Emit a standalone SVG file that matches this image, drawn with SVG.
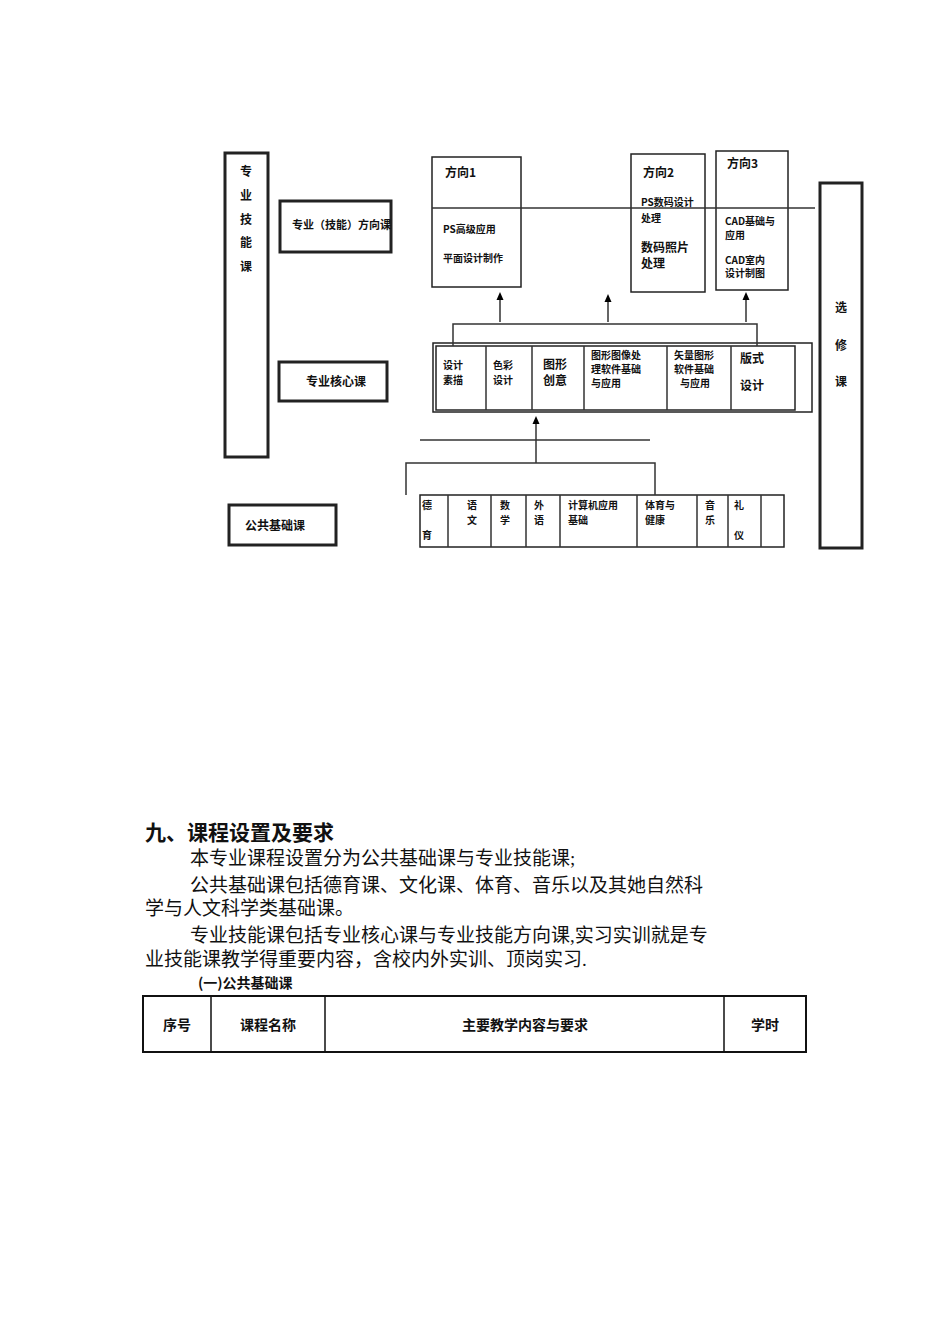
<svg xmlns="http://www.w3.org/2000/svg" width="950" height="1344" viewBox="0 0 950 1344">
<defs><path id="ah" d="M-3.5,8 L0,0 L3.5,8 Z" fill="#000"/></defs>
<style>
.b{fill:#fff;stroke:#222;stroke-width:1.5}
.bb{fill:#fff;stroke:#222;stroke-width:3}
.l{stroke:#333;stroke-width:1.5;fill:none}
text{font-family:"Noto Sans CJK SC","Liberation Sans",sans-serif;font-weight:bold;fill:#111}
.s{font-size:10px}.m{font-size:12px}
.t{font-family:"Liberation Serif","Noto Sans CJK SC",serif;font-weight:normal;font-size:19px}
</style>
<rect width="950" height="1344" fill="#fff"/>
<g id="zyjnk"><rect class="bb" x="225" y="153" width="43" height="304"/>
<text class="m" x="246" y="176" text-anchor="middle">专</text><text class="m" x="246" y="200" text-anchor="middle">业</text><text class="m" x="246" y="224" text-anchor="middle">技</text><text class="m" x="246" y="247" text-anchor="middle">能</text><text class="m" x="246" y="271" text-anchor="middle">课</text></g>
<g id="fxk"><rect class="bb" x="280" y="201" width="111" height="51"/><text x="292" y="229" style="font-size:11px">专业（技能）方向课</text></g>
<g id="fx1"><rect class="b" x="432" y="157" width="89" height="130"/><text class="m" x="445" y="177">方向1</text><text class="s" x="443" y="233">PS高级应用</text><text class="s" x="443" y="262">平面设计制作</text></g>
<g id="fx2"><rect class="b" x="631" y="154" width="74" height="138"/><text class="m" x="643" y="177">方向2</text><text class="s" x="641" y="206">PS数码设计</text><text class="s" x="641" y="222">处理</text><text class="m" x="641" y="252">数码照片</text><text class="m" x="641" y="268">处理</text></g>
<g id="fx3"><rect class="b" x="716" y="151" width="72" height="139"/><text class="m" x="727" y="168">方向3</text><text class="s" x="725" y="225">CAD基础与</text><text class="s" x="725" y="239">应用</text><text class="s" x="725" y="264">CAD室内</text><text class="s" x="725" y="277">设计制图</text></g>
<g id="hxk"><rect class="bb" x="279" y="362" width="108" height="39"/><text class="m" x="306" y="386">专业核心课</text></g>
<g id="hxrow"><rect class="b" x="433" y="343" width="379" height="69"/><rect class="b" x="436" y="346" width="359" height="64"/>
<path class="l" d="M486,346V410M532,346V410M584,346V410M667,346V410M731,346V410"/>
<text class="s" x="443" y="369">设计</text><text class="s" x="443" y="384">素描</text>
<text class="s" x="493" y="369">色彩</text><text class="s" x="493" y="384">设计</text>
<text class="m" x="543" y="369">图形</text><text class="m" x="543" y="385">创意</text>
<text class="s" x="591" y="359">图形图像处</text><text class="s" x="591" y="373">理软件基础</text><text class="s" x="591" y="387">与应用</text>
<text class="s" x="674" y="359">矢量图形</text><text class="s" x="674" y="373">软件基础</text><text class="s" x="680" y="387">与应用</text>
<text class="m" x="740" y="363">版式</text><text class="m" x="740" y="390">设计</text></g>
<g id="ggk"><rect class="bb" x="229" y="505" width="107" height="40"/><text class="m" x="245" y="530">公共基础课</text></g>
<g id="ggrow"><rect class="b" x="420" y="495" width="364" height="52"/>
<path class="l" d="M448,495V547M491,495V547M526,495V547M560,495V547M637,495V547M697,495V547M728,495V547M761,495V547"/>
<text class="s" x="422" y="509">德</text><text class="s" x="422" y="539">育</text>
<text class="s" x="467" y="509">语</text><text class="s" x="467" y="524">文</text>
<text class="s" x="500" y="509">数</text><text class="s" x="500" y="524">学</text>
<text class="s" x="534" y="509">外</text><text class="s" x="534" y="524">语</text>
<text class="s" x="568" y="509">计算机应用</text><text class="s" x="568" y="524">基础</text>
<text class="s" x="645" y="509">体育与</text><text class="s" x="645" y="524">健康</text>
<text class="s" x="705" y="509">音</text><text class="s" x="705" y="524">乐</text>
<text class="s" x="734" y="509">礼</text><text class="s" x="734" y="539">仪</text></g>
<g id="xxk"><rect class="bb" x="820" y="183" width="42" height="365"/><text class="m" x="841" y="312" text-anchor="middle">选</text><text class="m" x="841" y="350" text-anchor="middle">修</text><text class="m" x="841" y="386" text-anchor="middle">课</text></g>
<g id="connectors">
<path class="l" d="M432,208H815"/>
<path class="l" d="M453,346V324H757V346"/>
<path class="l" d="M500,322V296M608,322V298M746,322V296"/>
<use href="#ah" x="500" y="292"/><use href="#ah" x="608" y="294"/><use href="#ah" x="746" y="292"/>
<path class="l" d="M420,440H650"/>
<path class="l" d="M406,495V463H655V495"/>
<path class="l" d="M536,463V420"/>
<use href="#ah" x="536" y="416"/>
</g>
<text x="145" y="840" style="font-size:21px">九、课程设置及要求</text>
<text class="t" x="190" y="865">本专业课程设置分为公共基础课与专业技能课;</text>
<text class="t" x="190" y="892">公共基础课包括德育课、文化课、体育、音乐以及其她自然科</text>
<text class="t" x="145" y="915">学与人文科学类基础课。</text>
<text class="t" x="190" y="942">专业技能课包括专业核心课与专业技能方向课,实习实训就是专</text>
<text class="t" x="145" y="966">业技能课教学得重要内容，含校内外实训、顶岗实习.</text>
<text x="198" y="988" style="font-size:14px">(一)公共基础课</text>
<g id="table"><rect x="143" y="996" width="663" height="56" fill="none" stroke="#111" stroke-width="2"/>
<path d="M211,996V1052M325,996V1052M724,996V1052" stroke="#111" stroke-width="1.5"/>
<text x="177" y="1030" text-anchor="middle" style="font-size:14px">序号</text>
<text x="268" y="1030" text-anchor="middle" style="font-size:14px">课程名称</text>
<text x="525" y="1030" text-anchor="middle" style="font-size:14px">主要教学内容与要求</text>
<text x="765" y="1030" text-anchor="middle" style="font-size:14px">学时</text></g>
</svg>
